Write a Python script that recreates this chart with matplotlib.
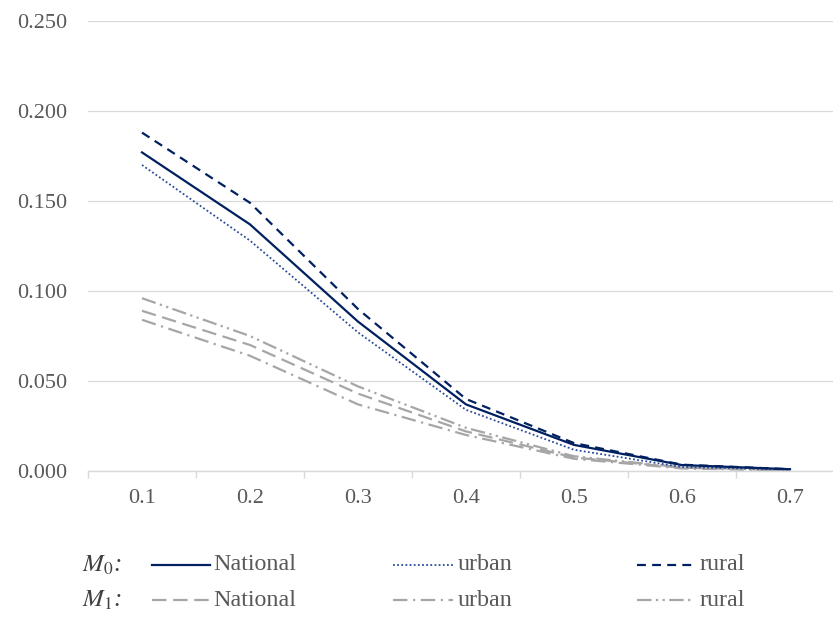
import matplotlib
matplotlib.use("Agg")
import matplotlib.pyplot as plt
from matplotlib.lines import Line2D

# Poverty cut-off values on the x axis
cutoffs = [0.1, 0.2, 0.3, 0.4, 0.5, 0.6, 0.7]

# M0 series (dark blue)
m0_national = [0.177, 0.137, 0.083, 0.037, 0.0145, 0.0033, 0.0010]
m0_urban = [0.170, 0.128, 0.077, 0.034, 0.0118, 0.0022, 0.0008]
m0_rural = [0.188, 0.149, 0.090, 0.040, 0.0155, 0.0035, 0.0010]

# M1 series (grey)
m1_national = [0.089, 0.070, 0.043, 0.022, 0.0075, 0.0018, 0.0004]
m1_urban = [0.084, 0.064, 0.037, 0.020, 0.0068, 0.0014, 0.0004]
m1_rural = [0.096, 0.075, 0.047, 0.024, 0.0082, 0.0020, 0.0005]

y_ticks = [0.0, 0.05, 0.10, 0.15, 0.20, 0.25]
x_tick_labels = ["0.1", "0.2", "0.3", "0.4", "0.5", "0.6", "0.7"]

NAVY = "#002060"
BLUE_DOT = "#2A4B9B"
GREY = "#A6A6A6"
TEXT = "#595959"
GRID = "#D9D9D9"

W, H = 833, 617

# line styles shared by the plot and the legend
STYLES = {
    "m0_national": dict(color=NAVY, lw=1.6, linestyle="-"),
    "m0_urban": dict(color=BLUE_DOT, lw=1.3, linestyle=(0, (1.0, 1.3))),
    "m0_rural": dict(color=NAVY, lw=1.6, linestyle=(0, (4.0, 2.8))),
    "m1_national": dict(color=GREY, lw=1.6, linestyle=(0, (6.5, 3.0))),
    "m1_urban": dict(color=GREY, lw=1.6, linestyle=(0, (6.5, 2.5, 1.0, 2.5))),
    "m1_rural": dict(color=GREY, lw=1.6, linestyle=(0, (6.5, 2.0, 1.0, 2.0, 1.0, 2.0))),
}


def draw_lines(ax):
    """Plot the six curves, grey ones first so the blue sit on top."""
    ax.plot(cutoffs, m1_national, **STYLES["m1_national"])
    ax.plot(cutoffs, m1_urban, **STYLES["m1_urban"])
    ax.plot(cutoffs, m1_rural, **STYLES["m1_rural"])
    ax.plot(cutoffs, m0_urban, **STYLES["m0_urban"])
    ax.plot(cutoffs, m0_rural, **STYLES["m0_rural"])
    ax.plot(cutoffs, m0_national, **STYLES["m0_national"])


def style_axes(ax):
    ax.set_xlim(0.05, 0.75)
    ax.set_ylim(0, 0.25)

    ax.set_yticks(y_ticks)
    ax.set_yticklabels([f"{v:.3f}" for v in y_ticks])
    ax.set_xticks(cutoffs)
    ax.set_xticklabels(x_tick_labels)
    # tick marks sit between the categories, like an Excel category axis
    ax.set_xticks([0.05 + 0.1 * i for i in range(8)], minor=True)

    ax.tick_params(axis="y", length=0, pad=15, labelsize=16, labelcolor=TEXT)
    ax.tick_params(axis="x", which="major", length=0, pad=13, labelsize=16, labelcolor=TEXT)
    ax.tick_params(axis="x", which="minor", length=5, width=1, color=GRID)

    ax.grid(axis="y", color=GRID, lw=0.9)
    ax.set_axisbelow(True)
    for side in ["left", "right", "top"]:
        ax.spines[side].set_visible(False)
    ax.spines["bottom"].set_color(GRID)
    ax.spines["bottom"].set_linewidth(1)


def draw_legend(fig):
    """Two rows of hand placed legend entries below the chart."""
    rows = [
        ("$M_{\\mathit{0}}$:", 565, ["m0_national", "m0_urban", "m0_rural"]),
        ("$M_{\\mathit{1}}$:", 600, ["m1_national", "m1_urban", "m1_rural"]),
    ]
    names = ["National", "urban", "rural"]
    sample_x = [(152, 210), (393, 453), (637, 692)]
    text_x = [213, 458, 700]

    for label, y_px, keys in rows:
        yf = 1 - y_px / H
        fig.text(82 / W, yf, label, fontsize=18, color="#404040",
                 ha="left", va="center", fontstyle="italic")
        for key, name, (x0, x1), tx in zip(keys, names, sample_x, text_x):
            fig.add_artist(Line2D([x0 / W, x1 / W], [yf, yf],
                                  transform=fig.transFigure, **STYLES[key]))
            fig.text(tx / W, yf, name, fontsize=17.3, color=TEXT,
                     ha="left", va="center")


def main():
    plt.rcParams["font.family"] = ["Liberation Serif", "DejaVu Serif"]
    plt.rcParams["mathtext.fontset"] = "stix"

    fig = plt.figure(figsize=(W / 100, H / 100), dpi=100)
    # plot area: left edge at 88 px, zero line at 471 px, top line at 21 px
    ax = fig.add_axes([88 / W, (H - 471) / H, 756 / W, 450 / H])

    draw_lines(ax)
    style_axes(ax)
    draw_legend(fig)

    fig.savefig("out.png", dpi=100)


if __name__ == "__main__":
    main()
